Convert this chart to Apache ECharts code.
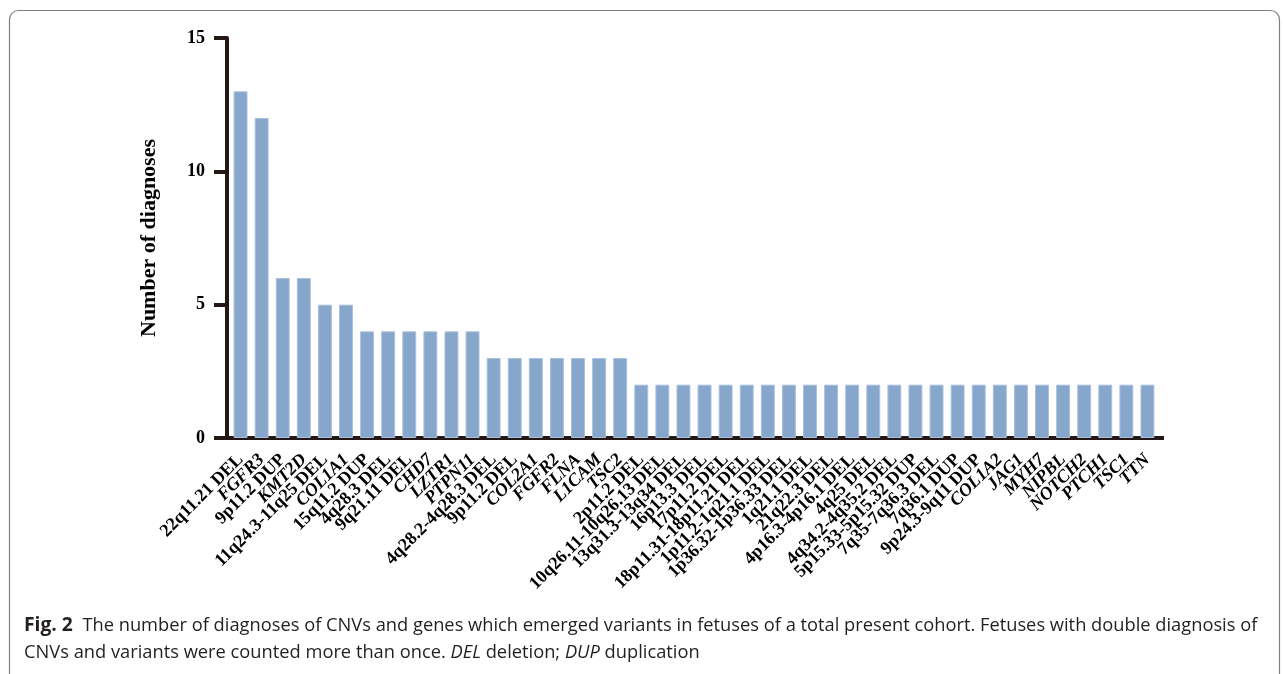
<!DOCTYPE html>
<html>
<head>
<meta charset="utf-8">
<script src="https://cdn.jsdelivr.net/npm/echarts@6/dist/echarts.min.js"></script>
<style>
    html, body { margin: 0; padding: 0; background: #fff; }
    #chart { width: 1284px; height: 674px; }
</style>
</head>
<body>
<div id="chart"></div>
<script>
    // CNV / gene names along the x axis
    const categories = [
        '22q11.21 DEL', 'FGFR3', '9p11.2 DUP', 'KMT2D', '11q24.3-11q25 DEL', 'COL1A1',
        '15q11.2 DUP', '4q28.3 DEL', '9q21.11 DEL', 'CHD7', 'LZTR1', 'PTPN11',
        '4q28.2-4q28.3 DEL', '9p11.2 DEL', 'COL2A1', 'FGFR2', 'FLNA', 'L1CAM', 'TSC2',
        '2p11.2 DEL', '10q26.11-10q26.13 DEL', '13q31.3-13q34 DEL', '16p13.3 DEL',
        '17p11.2 DEL', '18p11.31-18p11.21 DEL', '1p11.2-1q21.1 DEL', '1p36.32-1p36.33 DEL',
        '1q21.1 DEL', '21q22.3 DEL', '4p16.3-4p16.1 DEL', '4q25 DEL', '4q34.2-4q35.2 DEL',
        '5p15.33-5p15.32 DUP', '7q35-7q36.3 DEL', '7q36.1 DUP', '9p24.3-9q11 DUP',
        'COL1A2', 'JAG1', 'MYH7', 'NIPBL', 'NOTCH2', 'PTCH1', 'TSC1', 'TTN'
    ];
    // gene names are set in italics
    const genes = ['FGFR3', 'KMT2D', 'COL1A1', 'CHD7', 'LZTR1', 'PTPN11', 'COL2A1', 'FGFR2',
        'FLNA', 'L1CAM', 'TSC2', 'COL1A2', 'JAG1', 'MYH7', 'NIPBL', 'NOTCH2', 'PTCH1', 'TSC1', 'TTN'];
    const counts = [
        13, 12, 6, 6, 5, 5,
        4, 4, 4, 4, 4, 4,
        3, 3, 3, 3, 3, 3, 3,
        2, 2, 2, 2, 2, 2, 2, 2, 2, 2, 2, 2, 2, 2, 2, 2, 2, 2, 2, 2, 2, 2, 2, 2, 2
    ];
    const yTicks = [0, 5, 10, 15];

    const axisColor = '#231815';
    const serif = 'Liberation Serif';

    const chart = echarts.init(document.getElementById('chart'));

    const option = {
        animation: false,
        backgroundColor: '#fff',
        grid: {
            left: 230,
            right: 126,
            top: 38,
            bottom: 236
        },
        graphic: [
            {
                // figure frame
                type: 'rect',
                shape: {x: 9.5, y: 10.5, width: 1270, height: 720, r: 9},
                style: {fill: 'none', stroke: '#7f7f7f', lineWidth: 1.2},
                silent: true
            },
            {
                // x axis line reaches the y axis on the left
                type: 'line',
                shape: {x1: 225, y1: 438, x2: 232, y2: 438},
                style: {stroke: axisColor, lineWidth: 4},
                silent: true
            },
            {
                // and runs a little past the last bar
                type: 'line',
                shape: {x1: 1155, y1: 438, x2: 1164, y2: 438},
                style: {stroke: axisColor, lineWidth: 4},
                silent: true
            },
            {
                type: 'text',
                left: 24,
                top: 612,
                style: {
                    text: '{b|Fig. 2}  The number of diagnoses of CNVs and genes which emerged variants in fetuses of a total present cohort. Fetuses with double diagnosis of\nCNVs and variants were counted more than once. {i|DEL} deletion; {i|DUP} duplication',
                    font: '18.3px "Open Sans"',
                    fill: '#231f20',
                    lineHeight: 27,
                    rich: {
                        b: {fontWeight: 'bold', fontSize: 19.3, fontFamily: 'Open Sans', fill: '#231f20'},
                        i: {fontStyle: 'italic', fontSize: 18.3, fontFamily: 'Open Sans', fill: '#231f20'}
                    }
                }
            }
        ],
        xAxis: {
            type: 'category',
            data: categories,
            boundaryGap: true,
            axisLine: {lineStyle: {color: axisColor, width: 4}},
            axisTick: {
                alignWithLabel: true,
                length: 14,
                lineStyle: {color: axisColor, width: 4}
            },
            axisLabel: {
                interval: 0,
                rotate: 45,
                margin: 19,
                fontFamily: serif,
                fontWeight: 'bold',
                fontSize: 18,
                color: '#000',
                formatter: function (v) {
                    return genes.indexOf(v) >= 0 ? '{i|' + v + '}' : v;
                },
                rich: {
                    i: {fontStyle: 'italic', fontWeight: 'bold', fontFamily: serif, fontSize: 18, color: '#000'}
                }
            }
        },
        yAxis: {
            type: 'value',
            min: yTicks[0],
            max: yTicks[yTicks.length - 1],
            interval: 5,
            offset: 3,
            name: 'Number of diagnoses',
            nameLocation: 'middle',
            nameGap: 67,
            nameTextStyle: {
                fontFamily: serif,
                fontWeight: 'bold',
                fontSize: 22,
                color: '#000'
            },
            axisLine: {show: true, lineStyle: {color: axisColor, width: 4}},
            axisTick: {show: true, length: 13, lineStyle: {color: axisColor, width: 4}},
            splitLine: {show: false},
            axisLabel: {
                margin: 22,
                fontFamily: serif,
                fontWeight: 'bold',
                fontSize: 18,
                color: '#000'
            }
        },
        series: [
            {
                type: 'bar',
                data: counts,
                barCategoryGap: '34%',
                itemStyle: {
                    color: '#87a6cc',
                    borderColor: '#a9c0dc',
                    borderWidth: 1
                }
            }
        ]
    };

    chart.setOption(option);
</script>
</body>
</html>
